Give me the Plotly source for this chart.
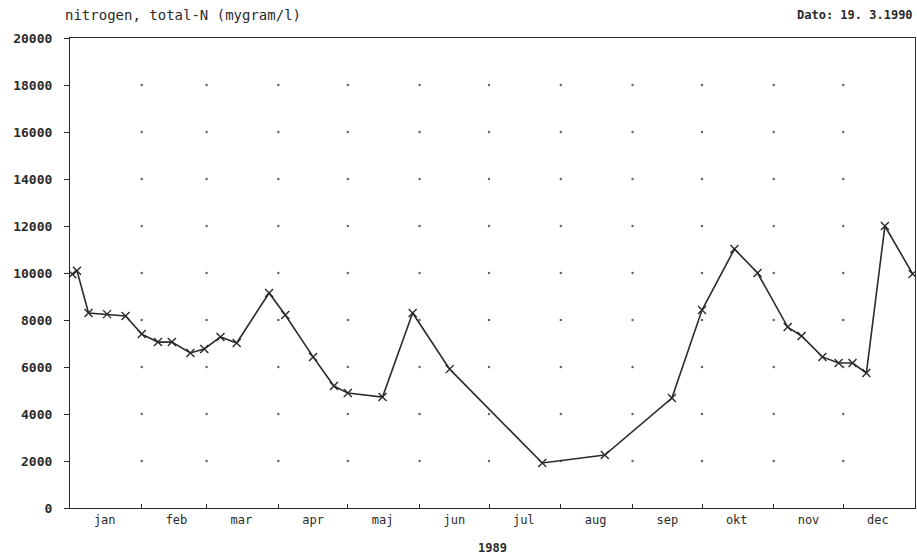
import plotly.graph_objects as go

# Data (sample dates in 1989, total-N in mygram/l)
dates = [
    "1989-01-02", "1989-01-04", "1989-01-09", "1989-01-17", "1989-01-25",
    "1989-02-01", "1989-02-08", "1989-02-14", "1989-02-22", "1989-02-28",
    "1989-03-07", "1989-03-14", "1989-03-28", "1989-04-04", "1989-04-16",
    "1989-04-25", "1989-05-01", "1989-05-16", "1989-05-29", "1989-06-14",
    "1989-07-24", "1989-08-20", "1989-09-18", "1989-10-01", "1989-10-15",
    "1989-10-25", "1989-11-07", "1989-11-13", "1989-11-22", "1989-11-29",
    "1989-12-05", "1989-12-11", "1989-12-19", "1989-12-31",
]
values = [
    9950, 10100, 8300, 8250, 8170,
    7400, 7060, 7060, 6600, 6770,
    7280, 7020, 9150, 8210, 6430,
    5190, 4890, 4720, 8300, 5910,
    1915, 2255, 4680, 8425, 11020,
    10000, 7700, 7320, 6430, 6170,
    6170, 5745, 12000, 9960,
]

month_labels = ["jan", "feb", "mar", "apr", "maj", "jun",
                "jul", "aug", "sep", "okt", "nov", "dec"]
month_mid = ["1989-%02d-16" % m for m in range(1, 13)]
month_starts = ["1989-%02d-01" % m for m in range(2, 13)]
y_ticks = [0, 2000, 4000, 6000, 8000, 10000, 12000, 14000, 16000, 18000, 20000]

title_text = "nitrogen, total-N (mygram/l)"
date_text = "Dato: 19. 3.1990"
year_text = "1989"

font_family = "DejaVu Sans Mono, monospace"
ink = "#2a2a2a"

# grid dots at intersections of month boundaries and value ticks
gx, gy = [], []
for d in month_starts:
    for v in y_ticks[1:-1]:
        gx.append(d)
        gy.append(v)

fig = go.Figure()
fig.add_trace(go.Scatter(
    x=gx, y=gy, mode="markers",
    marker=dict(size=2.5, color="#666666"),
    hoverinfo="skip", showlegend=False,
))
fig.add_trace(go.Scatter(
    x=dates, y=values, mode="lines+markers",
    line=dict(color=ink, width=1.6),
    marker=dict(symbol="x-thin", size=8, line=dict(color=ink, width=1.4)),
    showlegend=False,
))

fig.update_layout(
    width=917, height=556,
    margin=dict(l=70, r=2, t=38, b=48, autoexpand=False),
    paper_bgcolor="white", plot_bgcolor="white",
    font=dict(family=font_family, color=ink, size=11),
    annotations=[
        dict(text=title_text, xref="paper", yref="paper", x=-0.008, y=1.0,
             yshift=23, xanchor="left", yanchor="middle", showarrow=False,
             font=dict(size=14, family=font_family, color=ink)),
        dict(text="<b>" + date_text + "</b>", xref="paper", yref="paper",
             x=1.0, y=1.0, yshift=23, xanchor="right", yanchor="middle",
             showarrow=False,
             font=dict(size=12, family=font_family, color=ink)),
    ],
)
fig.update_xaxes(
    type="date", range=["1989-01-01", "1990-01-01"], automargin=False,
    tickvals=month_mid, ticktext=month_labels, ticks="",
    tickfont=dict(size=12, family=font_family, color=ink),
    showgrid=False, zeroline=False,
    showline=True, linecolor=ink, linewidth=1.2, mirror=True,
    minor=dict(tickvals=month_starts, ticks="inside", ticklen=4,
               tickcolor=ink, showgrid=False),
    title=dict(text="<b>" + year_text + "</b>",
               font=dict(size=12, family=font_family, color=ink),
               standoff=18),
)
fig.update_yaxes(
    range=[0, 20000], tickvals=y_ticks, automargin=False,
    ticktext=["<b>%d</b>" % v for v in y_ticks],
    ticks="outside", ticklen=5, tickcolor=ink, ticklabelstandoff=9,
    tickfont=dict(size=13, family=font_family, color=ink),
    showgrid=False, zeroline=False,
    showline=True, linecolor=ink, linewidth=1.2, mirror=True,
)

fig.write_html("out.html", config={"displayModeBar": False},
               post_script="document.body.style.margin='0';")
